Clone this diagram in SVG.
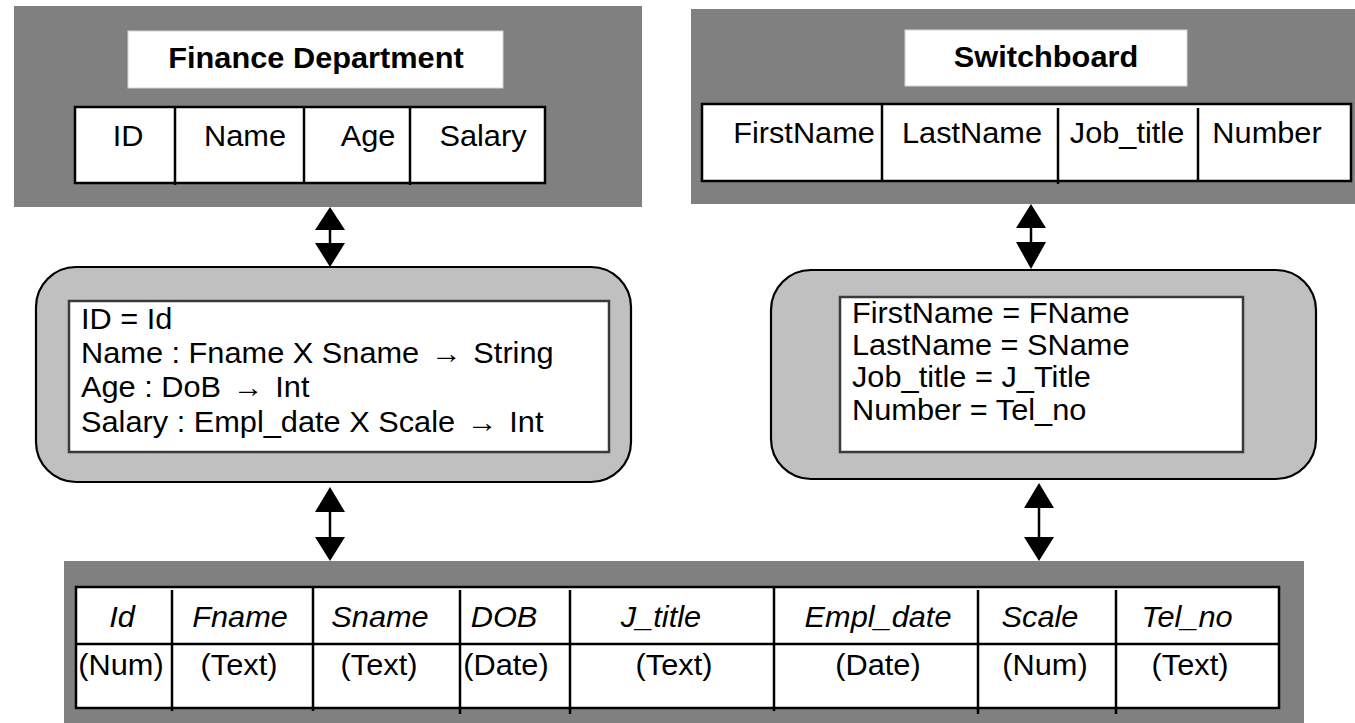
<svg xmlns="http://www.w3.org/2000/svg" width="1355" height="723" viewBox="0 0 1355 723">
  <style>
    .panel { fill: #808080; }
    .title { fill: #ffffff; stroke: #d4d4d4; stroke-width: 1; }
    .tbl { fill: #ffffff; stroke: #000000; stroke-width: 2.5; }
    .rule { stroke: #000000; stroke-width: 2.5; }
    .map { fill: #c0c0c0; stroke: #000000; stroke-width: 2.2; }
    .inner { fill: #ffffff; stroke: #3a3a3a; stroke-width: 2.5; }
    text { font-family: "Liberation Sans", Arial, sans-serif; font-size: 29px; fill: #000000; }
    .b { font-weight: bold; }
    .i { font-style: italic; }
    .c { text-anchor: middle; }
    .head { fill: #000000; }
    .shaft { stroke: #000000; stroke-width: 2.5; }
  </style>

  <!-- Finance Department source table -->
  <g id="finance">
    <rect class="panel" x="14" y="6" width="628" height="201"/>
    <rect class="title" x="128" y="31" width="375" height="57"/>
    <text class="b c" transform="translate(316 68) scale(1.06 1)">Finance Department</text>
    <rect class="tbl" x="75" y="107" width="470" height="76"/>
    <line class="rule" x1="175" y1="107" x2="175" y2="185"/>
    <line class="rule" x1="304" y1="107" x2="304" y2="183"/>
    <line class="rule" x1="410" y1="107" x2="410" y2="185"/>
    <text class="c" transform="translate(128 146) scale(1.06 1)">ID</text>
    <text class="c" transform="translate(245 146) scale(1.06 1)">Name</text>
    <text class="c" transform="translate(368 146) scale(1.06 1)">Age</text>
    <text class="c" transform="translate(483 146) scale(1.06 1)">Salary</text>
  </g>

  <!-- Switchboard source table -->
  <g id="switchboard">
    <rect class="panel" x="691" y="9" width="664" height="195"/>
    <rect class="title" x="905" y="30" width="282" height="56"/>
    <text class="b c" transform="translate(1046 67) scale(1.06 1)">Switchboard</text>
    <rect class="tbl" x="702" y="104" width="649" height="77"/>
    <line class="rule" x1="882" y1="104" x2="882" y2="181"/>
    <line class="rule" x1="1058" y1="108" x2="1058" y2="184"/>
    <line class="rule" x1="1198" y1="108" x2="1198" y2="181"/>
    <text class="c" transform="translate(804 143) scale(1.06 1)">FirstName</text>
    <text class="c" transform="translate(972 143) scale(1.06 1)">LastName</text>
    <text class="c" transform="translate(1127 143) scale(1.06 1)">Job_title</text>
    <text class="c" transform="translate(1267 143) scale(1.06 1)">Number</text>
  </g>

  <!-- Finance attribute mapping -->
  <g id="finance-map">
    <rect class="map" x="36" y="267" width="595" height="215" rx="40" ry="40"/>
    <rect class="inner" x="69" y="301" width="540" height="151"/>
    <text transform="translate(81 329) scale(1.06 1)">ID = Id</text>
    <text transform="translate(81 363) scale(1.06 1)">Name : Fname X Sname <tspan dx="3">→</tspan><tspan dx="3"> String</tspan></text>
    <text transform="translate(81 397) scale(1.06 1)">Age : DoB <tspan dx="3">→</tspan><tspan dx="3"> Int</tspan></text>
    <text transform="translate(81 432) scale(1.06 1)">Salary : Empl_date X Scale <tspan dx="3">→</tspan><tspan dx="3"> Int</tspan></text>
  </g>

  <!-- Switchboard attribute mapping -->
  <g id="switchboard-map">
    <rect class="map" x="771" y="270" width="545" height="209" rx="40" ry="40"/>
    <rect class="inner" x="840" y="297" width="403" height="155"/>
    <text transform="translate(852 323) scale(1.06 1)">FirstName = FName</text>
    <text transform="translate(852 355) scale(1.06 1)">LastName = SName</text>
    <text transform="translate(852 387) scale(1.06 1)">Job_title = J_Title</text>
    <text transform="translate(852 420) scale(1.06 1)">Number = Tel_no</text>
  </g>

  <!-- Shared employee table -->
  <g id="employee">
    <rect class="panel" x="64" y="561" width="1240" height="162"/>
    <rect class="tbl" x="76" y="587" width="1203" height="121"/>
    <line class="rule" x1="76" y1="644" x2="1279" y2="644"/>
    <line class="rule" x1="172" y1="590" x2="172" y2="711"/>
    <line class="rule" x1="313" y1="587" x2="313" y2="711"/>
    <line class="rule" x1="460" y1="590" x2="460" y2="714"/>
    <line class="rule" x1="570" y1="590" x2="570" y2="714"/>
    <line class="rule" x1="774" y1="587" x2="774" y2="711"/>
    <line class="rule" x1="978" y1="590" x2="978" y2="714"/>
    <line class="rule" x1="1116" y1="590" x2="1116" y2="714"/>

    <text class="i c" transform="translate(122 627) scale(1.06 1)">Id</text>
    <text class="i c" transform="translate(240 627) scale(1.06 1)">Fname</text>
    <text class="i c" transform="translate(380 627) scale(1.06 1)">Sname</text>
    <text class="i c" transform="translate(504 627) scale(1.06 1)">DOB</text>
    <text class="i c" transform="translate(661 627) scale(1.06 1)">J_title</text>
    <text class="i c" transform="translate(878 627) scale(1.06 1)">Empl_date</text>
    <text class="i c" transform="translate(1040 627) scale(1.06 1)">Scale</text>
    <text class="i c" transform="translate(1187 627) scale(1.06 1)">Tel_no</text>

    <text class="c" transform="translate(121 675) scale(1.06 1)">(Num)</text>
    <text class="c" transform="translate(239 675) scale(1.06 1)">(Text)</text>
    <text class="c" transform="translate(379 675) scale(1.06 1)">(Text)</text>
    <text class="c" transform="translate(506 675) scale(1.06 1)">(Date)</text>
    <text class="c" transform="translate(674 675) scale(1.06 1)">(Text)</text>
    <text class="c" transform="translate(878 675) scale(1.06 1)">(Date)</text>
    <text class="c" transform="translate(1045 675) scale(1.06 1)">(Num)</text>
    <text class="c" transform="translate(1190 675) scale(1.06 1)">(Text)</text>
  </g>

  <!-- Two-way connectors -->
  <g id="connectors">
    <g id="finance-to-map">
      <polygon class="head" points="330,207 345,230 315,230"/>
      <line class="shaft" x1="330" y1="229" x2="330" y2="244"/>
      <polygon class="head" points="315,243 345,243 330,267"/>
    </g>
    <g id="switchboard-to-map">
      <polygon class="head" points="1031,204 1046,228 1016,228"/>
      <line class="shaft" x1="1031" y1="227" x2="1031" y2="243"/>
      <polygon class="head" points="1016,242 1046,242 1031,269"/>
    </g>
    <g id="map-to-employee-left">
      <polygon class="head" points="330,487 345,512 315,512"/>
      <line class="shaft" x1="330" y1="511" x2="330" y2="538"/>
      <polygon class="head" points="315,537 345,537 330,561"/>
    </g>
    <g id="map-to-employee-right">
      <polygon class="head" points="1039,483 1054,508 1024,508"/>
      <line class="shaft" x1="1039" y1="507" x2="1039" y2="538"/>
      <polygon class="head" points="1024,537 1054,537 1039,561"/>
    </g>
  </g>
</svg>
